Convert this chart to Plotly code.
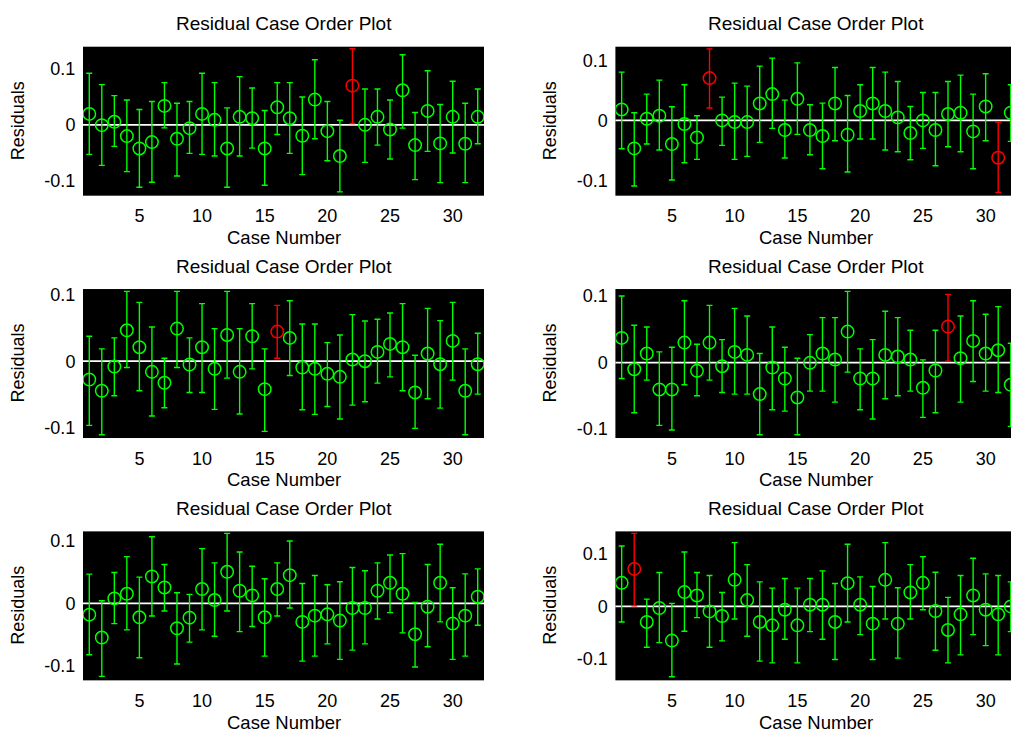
import plotly.graph_objects as go

case_numbers = list(range(1, 33))
x_tick_vals = [5, 10, 15, 20, 25, 30]
x_tick_text = ["5", "10", "15", "20", "25", "30"]
y_tick_vals = [-0.1, 0, 0.1]
y_tick_text = ["-0.1", "0", "0.1"]
title_text = "Residual Case Order Plot"
xlabel_text = "Case Number"
ylabel_text = "Residuals"

# Panel 1 (top-left)
r1 = [0.0196, -0.0006, 0.0054, -0.0202, -0.0423, -0.0310, 0.0339, -0.0250, -0.0060, 0.0196,
      0.0089, -0.0423, 0.0143, 0.0119, -0.0423, 0.0315, 0.0119, -0.0196, 0.0452, -0.0113,
      -0.0560, 0.0702, 0.0000, 0.0143, -0.0083, 0.0619, -0.0363, 0.0250, -0.0333, 0.0143,
      -0.0339, 0.0143]
lo1 = [-0.0530, -0.0726, -0.0387, -0.0839, -0.1119, -0.1030, -0.0054, -0.0917, -0.0512, -0.0530,
       -0.0560, -0.1119, -0.0560, -0.0417, -0.1083, -0.0173, -0.0512, -0.0893, -0.0250, -0.0643,
       -0.1202, 0.0024, -0.0673, -0.0363, -0.0613, -0.0060, -0.0982, -0.0476, -0.1036, -0.0506,
       -0.1036, -0.0339]
hi1 = [0.0923, 0.0720, 0.0524, 0.0446, 0.0274, 0.0417, 0.0756, 0.0387, 0.0417, 0.0923,
       0.0756, 0.0304, 0.0863, 0.0661, 0.0256, 0.0756, 0.0756, 0.0500, 0.1167, 0.0417,
       0.0083, 0.1363, 0.0643, 0.0643, 0.0446, 0.1256, 0.0220, 0.0970, 0.0363, 0.0780,
       0.0387, 0.0643]

# Panel 2 (top-right)
r2 = [0.0183, -0.0467, 0.0028, 0.0078, -0.0394, -0.0061, -0.0283, 0.0706, 0.0000, -0.0028,
      -0.0028, 0.0283, 0.0439, -0.0161, 0.0361, -0.0161, -0.0261, 0.0283, -0.0239, 0.0156,
      0.0283, 0.0156, 0.0050, -0.0211, 0.0000, -0.0161, 0.0106, 0.0128, -0.0183, 0.0233,
      -0.0622, 0.0128]
lo2 = [-0.0472, -0.1094, -0.0394, -0.0494, -0.0994, -0.0706, -0.0650, 0.0206, -0.0417, -0.0650,
       -0.0600, -0.0367, -0.0133, -0.0628, -0.0233, -0.0572, -0.0806, -0.0339, -0.0861, -0.0311,
       -0.0311, -0.0494, -0.0522, -0.0656, -0.0467, -0.0756, -0.0439, -0.0522, -0.0806, -0.0339,
       -0.1200, -0.0350]
hi2 = [0.0806, 0.0128, 0.0439, 0.0672, 0.0228, 0.0594, 0.0078, 0.1194, 0.0389, 0.0622,
       0.0572, 0.0906, 0.1039, 0.0339, 0.0961, 0.0261, 0.0289, 0.0883, 0.0417, 0.0594,
       0.0883, 0.0806, 0.0650, 0.0233, 0.0467, 0.0467, 0.0650, 0.0756, 0.0439, 0.0778,
       -0.0028, 0.0594]

# Panel 3 (middle-left)
r3 = [-0.0275, -0.0445, -0.0080, 0.0465, 0.0210, -0.0160, -0.0325, 0.0490, -0.0050, 0.0210,
      -0.0115, 0.0395, -0.0160, 0.0375, -0.0420, 0.0445, 0.0350, -0.0095, -0.0115, -0.0190,
      -0.0235, 0.0025, 0.0000, 0.0140, 0.0260, 0.0210, -0.0470, 0.0115, -0.0045, 0.0305,
      -0.0445, -0.0045]
lo3 = [-0.0965, -0.1105, -0.0520, -0.0095, -0.0445, -0.0825, -0.0700, -0.0095, -0.0470, -0.0470,
       -0.0725, -0.0255, -0.0795, -0.0115, -0.1055, 0.0045, -0.0215, -0.0730, -0.0800, -0.0680,
       -0.0870, -0.0660, -0.0610, -0.0330, -0.0235, -0.0445, -0.1010, -0.0565, -0.0705, -0.0285,
       -0.1105, -0.0495]
hi3 = [0.0375, 0.0185, 0.0350, 0.1050, 0.0885, 0.0515, 0.0045, 0.1050, 0.0350, 0.0865,
       0.0490, 0.1050, 0.0490, 0.0865, 0.0185, 0.0840, 0.0910, 0.0560, 0.0560, 0.0280,
       0.0395, 0.0700, 0.0605, 0.0630, 0.0725, 0.0865, 0.0090, 0.0795, 0.0610, 0.0885,
       0.0185, 0.0420]

# Panel 4 (middle-right)
r4 = [0.0370, -0.0100, 0.0135, -0.0405, -0.0405, 0.0300, -0.0125, 0.0300, -0.0055, 0.0160,
      0.0115, -0.0475, -0.0075, -0.0240, -0.0525, -0.0005, 0.0135, 0.0045, 0.0465, -0.0240,
      -0.0240, 0.0115, 0.0090, 0.0045, -0.0380, -0.0120, 0.0540, 0.0065, 0.0325, 0.0135,
      0.0185, -0.0335]
lo4 = [-0.0240, -0.0755, -0.0265, -0.0945, -0.1015, -0.0335, -0.0500, -0.0265, -0.0450, -0.0475,
       -0.0475, -0.1085, -0.0710, -0.0730, -0.1085, -0.0430, -0.0430, -0.0595, -0.0145, -0.0710,
       -0.0850, -0.0545, -0.0500, -0.0430, -0.0825, -0.0755, 0.0020, -0.0595, -0.0285, -0.0430,
       -0.0450, -0.0960]
hi4 = [0.1000, 0.0560, 0.0535, 0.0160, 0.0230, 0.0930, 0.0275, 0.0860, 0.0345, 0.0815,
       0.0700, 0.0135, 0.0535, 0.0230, 0.0065, 0.0420, 0.0675, 0.0675, 0.1070, 0.0205,
       0.0345, 0.0770, 0.0675, 0.0485, 0.0040, 0.0485, 0.1025, 0.0700, 0.0930, 0.0725,
       0.0840, 0.0290]

# Panel 5 (bottom-left)
r5 = [-0.0180, -0.0545, 0.0079, 0.0153, -0.0222, 0.0429, 0.0254, -0.0397, -0.0228, 0.0228,
      0.0053, 0.0503, 0.0201, 0.0127, -0.0222, 0.0228, 0.0450, -0.0296, -0.0196, -0.0175,
      -0.0275, -0.0074, -0.0074, 0.0201, 0.0328, 0.0153, -0.0492, -0.0053, 0.0328, -0.0323,
      -0.0196, 0.0106]
lo5 = [-0.0820, -0.1164, -0.0323, -0.0423, -0.0868, -0.0201, -0.0122, -0.0968, -0.0619, -0.0423,
       -0.0524, -0.0122, -0.0450, -0.0370, -0.0841, -0.0201, -0.0074, -0.0921, -0.0841, -0.0646,
       -0.0894, -0.0746, -0.0646, -0.0249, -0.0148, -0.0471, -0.1016, -0.0693, -0.0296, -0.0894,
       -0.0841, -0.0349]
hi5 = [0.0466, 0.0042, 0.0492, 0.0746, 0.0418, 0.1063, 0.0619, 0.0169, 0.0143, 0.0873,
       0.0646, 0.1116, 0.0820, 0.0593, 0.0392, 0.0646, 0.0995, 0.0317, 0.0444, 0.0296,
       0.0344, 0.0571, 0.0519, 0.0646, 0.0772, 0.0794, 0.0016, 0.0619, 0.0942, 0.0249,
       0.0471, 0.0550]

# Panel 6 (bottom-right)
r6 = [0.0449, 0.0715, -0.0297, -0.0032, -0.0652, 0.0272, 0.0209, -0.0095, -0.0184, 0.0506,
      0.0120, -0.0297, -0.0361, -0.0063, -0.0361, 0.0032, 0.0032, -0.0297, 0.0443, 0.0032,
      -0.0329, 0.0506, -0.0329, 0.0266, 0.0449, -0.0089, -0.0449, -0.0152, 0.0209, -0.0063,
      -0.0152, 0.0000]
lo6 = [-0.0297, 0.0010, -0.0778, -0.0690, -0.1342, -0.0475, -0.0215, -0.0778, -0.0658, -0.0241,
       -0.0570, -0.1044, -0.1076, -0.0627, -0.1076, -0.0481, -0.0627, -0.1013, -0.0297, -0.0538,
       -0.1013, -0.0241, -0.0987, -0.0241, -0.0063, -0.0835, -0.1076, -0.0924, -0.0538, -0.0747,
       -0.0924, -0.0481]
hi6 = [0.1152, 0.1392, 0.0139, 0.0646, 0.0057, 0.1038, 0.0646, 0.0589, 0.0266, 0.1215,
       0.0797, 0.0468, 0.0348, 0.0532, 0.0348, 0.0532, 0.0677, 0.0437, 0.1184, 0.0563,
       0.0380, 0.1215, 0.0354, 0.0797, 0.0949, 0.0652, 0.0171, 0.0589, 0.0918, 0.0620,
       0.0589, 0.0468]

# Axis y-limits for each panel
ylims = [(-0.127, 0.140), (-0.1256, 0.123), (-0.1155, 0.1085),
         (-0.1135, 0.1105), (-0.1228, 0.1148), (-0.141, 0.143)]
xlims = [(0.5, 32.5), (0.5, 32.02)]

panels = [(r1, lo1, hi1), (r2, lo2, hi2), (r3, lo3, hi3),
          (r4, lo4, hi4), (r5, lo5, hi5), (r6, lo6, hi6)]

W, H = 1011, 733
col_px = [(83, 484), (615.4, 1011)]
row_px = [(43, 193), (287, 437), (531, 681)]

FONT = "Arial, Liberation Sans, Helvetica, sans-serif"
GREEN = "rgb(0,255,0)"
RED = "rgb(255,0,0)"

fig = go.Figure()
layout = dict(width=W, height=H, margin=dict(l=0, r=0, t=0, b=0),
              paper_bgcolor="white", plot_bgcolor="black", showlegend=False,
              font=dict(family=FONT, color="black", size=18))
annotations = []
shapes = []

for i, (r, lo, hi) in enumerate(panels):
    row, col = divmod(i, 2)
    k = i + 1
    xa = "x" if k == 1 else f"x{k}"
    ya = "y" if k == 1 else f"y{k}"
    xl, xr = col_px[col]
    yt, yb = row_px[row]
    xdom = [xl / W, xr / W]
    ydom = [1 - yb / H, 1 - yt / H]

    for is_out, color in [(False, GREEN), (True, RED)]:
        idx = [j for j in range(len(r)) if ((lo[j] > 0) or (hi[j] < 0)) == is_out]
        if not idx:
            continue
        xs = [case_numbers[j] for j in idx]
        ys = [r[j] for j in idx]
        ep = [hi[j] - r[j] for j in idx]
        em = [r[j] - lo[j] for j in idx]
        fig.add_trace(go.Scatter(
            x=xs, y=ys, mode="markers", xaxis=xa, yaxis=ya,
            marker=dict(symbol="circle-open", size=12.5, color=color, line=dict(width=1.5, color=color)),
            error_y=dict(type="data", symmetric=False, array=ep, arrayminus=em,
                         color=color, thickness=1.4, width=3),
            hoverinfo="skip"))

    axkey_x = "xaxis" if k == 1 else f"xaxis{k}"
    axkey_y = "yaxis" if k == 1 else f"yaxis{k}"
    layout[axkey_x] = dict(domain=xdom, range=list(xlims[col]), anchor=ya,
                           tickmode="array", tickvals=x_tick_vals, ticktext=x_tick_text,
                           showgrid=False, zeroline=False, showline=False,
                           ticks="outside", ticklen=4, tickcolor="white",
                           tickfont=dict(size=18, family=FONT, color="black"))
    layout[axkey_y] = dict(domain=ydom, range=list(ylims[i]), anchor=xa,
                           tickmode="array", tickvals=y_tick_vals, ticktext=y_tick_text,
                           showgrid=False, zeroline=False, showline=False,
                           ticks="outside", ticklen=3, tickcolor="white",
                           tickfont=dict(size=18, family=FONT, color="black"))
    # zero reference line
    shapes.append(dict(type="line", xref=f"{xa} domain", yref=ya, x0=0, x1=1, y0=0, y1=0,
                       line=dict(color="white", width=1.8), layer="below"))
    xc = (xl + xr) / 2 if col == 0 else (xl + (xl + 32 * (xr - xl) / 31.52)) / 2
    # title
    annotations.append(dict(text=title_text, x=xc / W, y=1 - (yt - 23) / H, xref="paper", yref="paper",
                            showarrow=False, xanchor="center", yanchor="middle",
                            font=dict(size=19, family=FONT, color="black")))
    # x label
    annotations.append(dict(text=xlabel_text, x=xc / W, y=1 - (yb + 42) / H, xref="paper", yref="paper",
                            showarrow=False, xanchor="center", yanchor="middle", borderpad=0,
                            font=dict(size=18.5, family=FONT, color="black")))
    # y label
    ylx = 18 if col == 0 else 550
    annotations.append(dict(text=ylabel_text, x=ylx / W, y=1 - ((yt + yb) / 2) / H, xref="paper", yref="paper",
                            showarrow=False, xanchor="center", yanchor="middle", textangle=-90,
                            font=dict(size=18, family=FONT, color="black")))

layout["annotations"] = annotations
layout["shapes"] = shapes
fig.update_layout(**layout)
fig.write_html("out.html")
